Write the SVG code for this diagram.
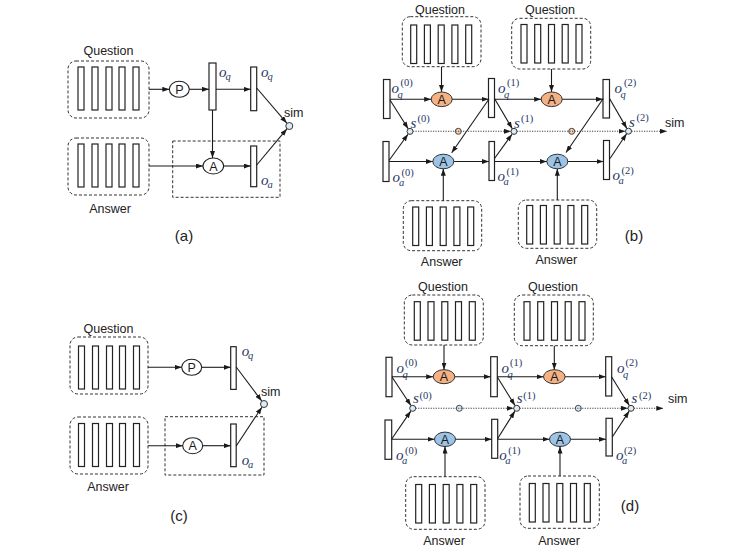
<svg xmlns="http://www.w3.org/2000/svg" width="732" height="556" viewBox="0 0 732 556">
  <defs>
    <marker id="ah" viewBox="0 0 7 5" refX="7" refY="2.5" markerWidth="7" markerHeight="5" markerUnits="userSpaceOnUse" orient="auto">
      <path d="M0,0 L7,2.5 L0,5 z" fill="#1a1a1a"/>
    </marker>
    <!-- five-slot word sequence, tall variant -->
    <g id="seq">
      <rect class="bar" x="0" y="0" width="6" height="43"/>
      <rect class="bar" x="14" y="0" width="6" height="43"/>
      <rect class="bar" x="28" y="0" width="6" height="43"/>
      <rect class="bar" x="41" y="0" width="6" height="43"/>
      <rect class="bar" x="55" y="0" width="6" height="43"/>
    </g>
    <!-- five-slot word sequence, short variant -->
    <g id="seq2">
      <rect class="bar" x="0" y="0" width="6" height="38.5"/>
      <rect class="bar" x="13.7" y="0" width="6" height="38.5"/>
      <rect class="bar" x="27.5" y="0" width="6" height="38.5"/>
      <rect class="bar" x="41.2" y="0" width="6" height="38.5"/>
      <rect class="bar" x="55" y="0" width="6" height="38.5"/>
    </g>
  </defs>
  <style>
    .bar { fill: #fff; stroke: #222; stroke-width: 1.2; }
    .grp { fill: none; stroke: #333; stroke-width: 1; stroke-dasharray: 3 2; }
    .ln { fill: none; stroke: #1a1a1a; stroke-width: 1.1; marker-end: url(#ah); }
    .dota { fill: none; stroke: #444; stroke-width: 1.1; stroke-dasharray: 1.2 1.3; marker-end: url(#ah); }
    .lbl { font-family: "Liberation Sans", Arial, sans-serif; font-size: 12.5px; fill: #222; text-anchor: middle; }
    .sim { font-family: "Liberation Sans", Arial, sans-serif; font-size: 12.5px; fill: #222; }
    .cap { font-family: "Liberation Sans", Arial, sans-serif; font-size: 15px; fill: #222; text-anchor: middle; }
    .op { fill: #fff; stroke: #222; stroke-width: 1.1; }
    .opq { fill: #F4B183; stroke: #333; stroke-width: 1; }
    .opa { fill: #9DC3E6; stroke: #333; stroke-width: 1; }
    .opt { font-family: "Liberation Sans", Arial, sans-serif; font-size: 12.5px; fill: #1a1a1a; text-anchor: middle; }
    .node { fill: #DEEBF7; stroke: #333; stroke-width: 1; }
    .mid { fill: #F8CBAD; stroke: #333; stroke-width: 0.9; }
    .midb { fill: #DEEBF7; stroke: #333; stroke-width: 0.9; }
    .v { font-family: "Liberation Serif", "DejaVu Serif", serif; font-style: italic; fill: #1F3864; font-size: 15px; }
    .sub { font-family: "Liberation Serif", "DejaVu Serif", serif; font-style: italic; fill: #1F3864; font-size: 10.5px; }
    .sup { font-family: "Liberation Serif", "DejaVu Serif", serif; fill: #1F3864; font-size: 10.5px; }
  </style>

  <!-- ===================== (a) ===================== -->
  <g id="panel-a">
    <g id="a-question">
      <text class="lbl" x="108.5" y="55">Question</text>
      <rect class="grp" x="68" y="61" width="81" height="57" rx="8"/>
      <use href="#seq" x="78" y="67"/>
    </g>
    <g id="a-answer">
      <rect class="grp" x="68" y="138" width="81" height="57" rx="8"/>
      <use href="#seq" x="78" y="144"/>
      <text class="lbl" x="110" y="213">Answer</text>
    </g>
    <g id="a-attn-box"><rect class="grp" x="172.7" y="141" width="107.3" height="56.3"/></g>
    <g id="a-p">
      <ellipse class="op" cx="179.3" cy="89.3" rx="10" ry="8"/>
      <text class="opt" x="179.3" y="93.8">P</text>
    </g>
    <g id="a-a">
      <ellipse class="op" cx="213.3" cy="166" rx="10.3" ry="8"/>
      <text class="opt" x="213.3" y="170.5">A</text>
    </g>
    <g id="a-oq1">
      <rect class="bar" x="209" y="63" width="7" height="47"/>
      <text class="v" x="219" y="77" font-size="14">o</text><text class="sub" x="225.5" y="80">q</text>
    </g>
    <g id="a-oq2">
      <rect class="bar" x="250.7" y="67" width="6" height="43.7"/>
      <text class="v" x="261" y="77" font-size="14">o</text><text class="sub" x="267.5" y="80">q</text>
    </g>
    <g id="a-oa">
      <rect class="bar" x="250.7" y="146" width="6" height="40.7"/>
      <text class="v" x="261" y="185" font-size="14">o</text><text class="sub" x="267.5" y="188">a</text>
    </g>
    <g id="a-sim">
      <circle class="node" cx="289.3" cy="126" r="3.5"/>
      <text class="sim" x="284" y="117">sim</text>
    </g>
    <g id="a-edges">
      <line class="ln" x1="149" y1="89.3" x2="169.3" y2="89.3"/>
      <line class="ln" x1="189.3" y1="89.3" x2="209" y2="89.3"/>
      <line class="ln" x1="216" y1="89.3" x2="250.7" y2="89.3"/>
      <line class="ln" x1="212.5" y1="110" x2="212.5" y2="158"/>
      <line class="ln" x1="149" y1="166" x2="203" y2="166"/>
      <line class="ln" x1="223.6" y1="166" x2="250.7" y2="166"/>
      <line class="ln" x1="256.7" y1="88" x2="286.8" y2="123.1"/>
      <line class="ln" x1="256.7" y1="165" x2="286.9" y2="128.9"/>
    </g>
    <text class="cap" x="184" y="241">(a)</text>
  </g>

  <!-- ===================== (c) ===================== -->
  <g id="panel-c">
    <g id="c-question">
      <text class="lbl" x="108.5" y="333">Question</text>
      <rect class="grp" x="70" y="337" width="78" height="57" rx="8"/>
      <use href="#seq" x="78.5" y="346"/>
    </g>
    <g id="c-answer">
      <rect class="grp" x="70" y="417" width="78" height="57" rx="8"/>
      <use href="#seq" x="78.5" y="423.5"/>
      <text class="lbl" x="108" y="491">Answer</text>
    </g>
    <g id="c-attn-box"><rect class="grp" x="165" y="416.7" width="99" height="58.3"/></g>
    <g id="c-p">
      <ellipse class="op" cx="191.7" cy="367.3" rx="10" ry="8"/>
      <text class="opt" x="191.7" y="371.8">P</text>
    </g>
    <g id="c-a">
      <ellipse class="op" cx="192.7" cy="445.7" rx="10" ry="8"/>
      <text class="opt" x="192.7" y="450.2">A</text>
    </g>
    <g id="c-oq">
      <rect class="bar" x="230.7" y="346.7" width="5.5" height="42.7"/>
      <text class="v" x="241.7" y="355.5" font-size="14">o</text><text class="sub" x="248" y="358.5">q</text>
    </g>
    <g id="c-oa">
      <rect class="bar" x="230.7" y="424" width="5.5" height="42.7"/>
      <text class="v" x="241.7" y="465" font-size="14">o</text><text class="sub" x="248" y="468">a</text>
    </g>
    <g id="c-sim">
      <circle class="node" cx="264" cy="404" r="3.5"/>
      <text class="sim" x="261" y="396">sim</text>
    </g>
    <g id="c-edges">
      <line class="ln" x1="148" y1="367.3" x2="181.7" y2="367.3"/>
      <line class="ln" x1="201.7" y1="367.3" x2="230.7" y2="367.3"/>
      <line class="ln" x1="148" y1="445.7" x2="182.7" y2="445.7"/>
      <line class="ln" x1="202.7" y1="445.7" x2="230.7" y2="445.7"/>
      <line class="ln" x1="236.2" y1="367" x2="261.7" y2="401"/>
      <line class="ln" x1="236.2" y1="446" x2="261.9" y2="407.2"/>
    </g>
    <text class="cap" x="179" y="521">(c)</text>
  </g>

  <!-- ===================== (b) ===================== -->
  <g id="panel-b">
    <g id="b-question-1">
      <text class="lbl" x="440" y="14">Question</text>
      <rect class="grp" x="402.3" y="16.7" width="78.7" height="50" rx="8"/>
      <use href="#seq2" x="410.7" y="25"/>
    </g>
    <g id="b-question-2">
      <text class="lbl" x="550" y="14">Question</text>
      <rect class="grp" x="511.7" y="18.3" width="79" height="50.7" rx="8"/>
      <use href="#seq2" x="521" y="24.5"/>
    </g>
    <g id="b-answer-1">
      <rect class="grp" x="403.3" y="200.7" width="78.4" height="50" rx="8"/>
      <use href="#seq2" x="412.7" y="207"/>
      <text class="lbl" x="441.7" y="266">Answer</text>
    </g>
    <g id="b-answer-2">
      <rect class="grp" x="518.3" y="200" width="78.4" height="48.3" rx="8"/>
      <use href="#seq2" x="526.7" y="205.5"/>
      <text class="lbl" x="556.3" y="264">Answer</text>
    </g>

    <g id="b-oq0">
      <rect class="bar" x="383.5" y="79.5" width="6.5" height="39"/>
      <text class="v" x="391.5" y="93">o</text><text class="sub" x="397.5" y="98">q</text><text class="sup" x="400.5" y="85.5">(0)</text>
    </g>
    <g id="b-oq1">
      <rect class="bar" x="488.5" y="78.5" width="6" height="39"/>
      <text class="v" x="498" y="93">o</text><text class="sub" x="504" y="98">q</text><text class="sup" x="507" y="85.5">(1)</text>
    </g>
    <g id="b-oq2">
      <rect class="bar" x="603" y="79.5" width="6.5" height="38.5"/>
      <text class="v" x="614.5" y="93">o</text><text class="sub" x="620.5" y="98">q</text><text class="sup" x="624" y="85.5">(2)</text>
    </g>
    <g id="b-oa0">
      <rect class="bar" x="383" y="141.5" width="6" height="40"/>
      <text class="v" x="392.5" y="182">o</text><text class="sub" x="399" y="186">a</text><text class="sup" x="401.5" y="175.5">(0)</text>
    </g>
    <g id="b-oa1">
      <rect class="bar" x="489" y="141.5" width="5.5" height="39"/>
      <text class="v" x="497.5" y="181">o</text><text class="sub" x="503.5" y="185">a</text><text class="sup" x="506.5" y="174.5">(1)</text>
    </g>
    <g id="b-oa2">
      <rect class="bar" x="603.5" y="140.5" width="6" height="39"/>
      <text class="v" x="612.5" y="180">o</text><text class="sub" x="618.5" y="184">a</text><text class="sup" x="621.5" y="173.5">(2)</text>
    </g>

    <g id="b-aq1"><ellipse class="opq" cx="441.7" cy="99.3" rx="10.5" ry="7.3"/><text class="opt" x="441.7" y="103.8">A</text></g>
    <g id="b-aq2"><ellipse class="opq" cx="551.7" cy="99.3" rx="10.5" ry="7.3"/><text class="opt" x="551.7" y="103.8">A</text></g>
    <g id="b-aa1"><ellipse class="opa" cx="443.3" cy="161.5" rx="10.5" ry="7.3"/><text class="opt" x="443.3" y="166">A</text></g>
    <g id="b-aa2"><ellipse class="opa" cx="557.3" cy="161.5" rx="10.5" ry="7.3"/><text class="opt" x="557.3" y="166">A</text></g>

    <g id="b-s0"><circle class="node" cx="410" cy="131.4" r="3"/><text class="v" x="410.5" y="128" font-size="14">s</text><text class="sup" x="417.5" y="122">(0)</text></g>
    <g id="b-s1"><circle class="node" cx="514" cy="131.4" r="3"/><text class="v" x="514" y="128" font-size="14">s</text><text class="sup" x="521" y="122">(1)</text></g>
    <g id="b-s2"><circle class="node" cx="628.5" cy="131.2" r="3"/><text class="v" x="629" y="127" font-size="14">s</text><text class="sup" x="636.5" y="121">(2)</text></g>
    <g id="b-m1"><circle class="mid" cx="458.3" cy="131.3" r="3"/></g>
    <g id="b-m2"><circle class="mid" cx="571.7" cy="131.3" r="3"/></g>
    <text class="sim" x="665" y="127">sim</text>

    <g id="b-edges">
      <line class="ln" x1="441.5" y1="66.7" x2="441.5" y2="92"/>
      <line class="ln" x1="551.5" y1="69" x2="551.5" y2="92"/>
      <line class="ln" x1="443.3" y1="200.7" x2="443.3" y2="168.8"/>
      <line class="ln" x1="557.3" y1="200" x2="557.3" y2="168.8"/>
      <line class="ln" x1="390" y1="99.3" x2="431.2" y2="99.3"/>
      <line class="ln" x1="452.2" y1="99.3" x2="488.5" y2="99.3"/>
      <line class="ln" x1="494.5" y1="99.3" x2="541.2" y2="99.3"/>
      <line class="ln" x1="562.2" y1="99.3" x2="603" y2="99.3"/>
      <line class="ln" x1="389" y1="161.5" x2="432.8" y2="161.5"/>
      <line class="ln" x1="453.8" y1="161.5" x2="489" y2="161.5"/>
      <line class="ln" x1="494.5" y1="161.5" x2="546.8" y2="161.5"/>
      <line class="ln" x1="567.8" y1="161.5" x2="603.5" y2="161.5"/>
      <line class="ln" x1="390" y1="100" x2="408.2" y2="128.7"/>
      <line class="ln" x1="389" y1="160.5" x2="408" y2="134.2"/>
      <line class="ln" x1="494.5" y1="98.5" x2="512.3" y2="128.7"/>
      <line class="ln" x1="494.5" y1="158.5" x2="512" y2="134.2"/>
      <line class="ln" x1="609.5" y1="98.5" x2="626.8" y2="128.4"/>
      <line class="ln" x1="610" y1="158.5" x2="626.6" y2="133.8"/>
      <line class="ln" x1="489" y1="99" x2="451.7" y2="152.7"/>
      <line class="ln" x1="603.3" y1="98.5" x2="566" y2="152.5"/>
      <line class="dota" x1="413" y1="131.3" x2="511" y2="131.3"/>
      <line class="dota" x1="517" y1="131.3" x2="625.5" y2="131.3"/>
      <line class="dota" x1="631.5" y1="131.3" x2="667" y2="131.3"/>
    </g>
    <text class="cap" x="634" y="241">(b)</text>
  </g>

  <!-- ===================== (d) ===================== -->
  <g id="panel-d">
    <g id="d-question-1">
      <text class="lbl" x="443" y="291">Question</text>
      <rect class="grp" x="404.3" y="295" width="79" height="50" rx="8"/>
      <use href="#seq2" x="414.3" y="301.7"/>
    </g>
    <g id="d-question-2">
      <text class="lbl" x="553" y="291">Question</text>
      <rect class="grp" x="514.3" y="295" width="79" height="50.7" rx="8"/>
      <use href="#seq2" x="524" y="301.7"/>
    </g>
    <g id="d-answer-1">
      <rect class="grp" x="405.7" y="476.7" width="79.3" height="52.6" rx="8"/>
      <use href="#seq2" x="415.7" y="484.5"/>
      <text class="lbl" x="444" y="545">Answer</text>
    </g>
    <g id="d-answer-2">
      <rect class="grp" x="520" y="476" width="79.3" height="52.3" rx="8"/>
      <use href="#seq2" x="529.3" y="483.5"/>
      <text class="lbl" x="559" y="545">Answer</text>
    </g>

    <g id="d-oq0">
      <rect class="bar" x="386" y="357.3" width="6" height="39.4"/>
      <text class="v" x="396.5" y="373">o</text><text class="sub" x="402.5" y="377.5">q</text><text class="sup" x="405" y="365.5">(0)</text>
    </g>
    <g id="d-oq1">
      <rect class="bar" x="490.7" y="356.7" width="6.6" height="40"/>
      <text class="v" x="501.5" y="373">o</text><text class="sub" x="507.5" y="377.5">q</text><text class="sup" x="510" y="365.5">(1)</text>
    </g>
    <g id="d-oq2">
      <rect class="bar" x="605.7" y="356.7" width="6" height="39.3"/>
      <text class="v" x="617" y="373">o</text><text class="sub" x="623" y="377.5">q</text><text class="sup" x="625.5" y="365.5">(2)</text>
    </g>
    <g id="d-oa0">
      <rect class="bar" x="385" y="420" width="6.7" height="39.3"/>
      <text class="v" x="396" y="460">o</text><text class="sub" x="402" y="464">a</text><text class="sup" x="405" y="454">(0)</text>
    </g>
    <g id="d-oa1">
      <rect class="bar" x="491.7" y="419.3" width="6" height="39"/>
      <text class="v" x="499.3" y="460">o</text><text class="sub" x="505.3" y="464">a</text><text class="sup" x="508.3" y="454">(1)</text>
    </g>
    <g id="d-oa2">
      <rect class="bar" x="606" y="418.3" width="6.3" height="37.7"/>
      <text class="v" x="616" y="460">o</text><text class="sub" x="622" y="464">a</text><text class="sup" x="624" y="454">(2)</text>
    </g>

    <g id="d-aq1"><ellipse class="opq" cx="444" cy="376.7" rx="10.8" ry="7"/><text class="opt" x="444" y="381.2">A</text></g>
    <g id="d-aq2"><ellipse class="opq" cx="554.3" cy="376.7" rx="10.8" ry="7"/><text class="opt" x="554.3" y="381.2">A</text></g>
    <g id="d-aa1"><ellipse class="opa" cx="445" cy="439.3" rx="10.5" ry="7.2"/><text class="opt" x="445" y="443.8">A</text></g>
    <g id="d-aa2"><ellipse class="opa" cx="560" cy="439.3" rx="10.5" ry="7.2"/><text class="opt" x="560" y="443.8">A</text></g>

    <g id="d-s0"><circle class="node" cx="412.7" cy="408.3" r="3"/><text class="v" x="413" y="402.5" font-size="14">s</text><text class="sup" x="419.5" y="399">(0)</text></g>
    <g id="d-s1"><circle class="node" cx="516.7" cy="408.3" r="3"/><text class="v" x="516.7" y="402.5" font-size="14">s</text><text class="sup" x="523.3" y="399">(1)</text></g>
    <g id="d-s2"><circle class="node" cx="631" cy="408.3" r="3"/><text class="v" x="631.5" y="402.5" font-size="14">s</text><text class="sup" x="639" y="399">(2)</text></g>
    <g id="d-m1"><circle class="midb" cx="459.3" cy="408.3" r="3"/></g>
    <g id="d-m2"><circle class="midb" cx="578.3" cy="408.3" r="3"/></g>
    <text class="sim" x="668" y="403">sim</text>

    <g id="d-edges">
      <line class="ln" x1="444" y1="345" x2="444" y2="369.7"/>
      <line class="ln" x1="554.3" y1="345.7" x2="554.3" y2="369.7"/>
      <line class="ln" x1="445" y1="476.7" x2="445" y2="446.5"/>
      <line class="ln" x1="560" y1="476" x2="560" y2="446.5"/>
      <line class="ln" x1="392" y1="376.7" x2="433.2" y2="376.7"/>
      <line class="ln" x1="454.8" y1="376.7" x2="490.7" y2="376.7"/>
      <line class="ln" x1="497.3" y1="376.7" x2="543.5" y2="376.7"/>
      <line class="ln" x1="565.1" y1="376.7" x2="605.7" y2="376.7"/>
      <line class="ln" x1="391.7" y1="439.3" x2="434.5" y2="439.3"/>
      <line class="ln" x1="455.5" y1="439.3" x2="491.7" y2="439.3"/>
      <line class="ln" x1="497.7" y1="439.3" x2="549.5" y2="439.3"/>
      <line class="ln" x1="570.5" y1="439.3" x2="606" y2="439.3"/>
      <line class="ln" x1="392" y1="377" x2="410.9" y2="405.5"/>
      <line class="ln" x1="391.7" y1="439" x2="410.8" y2="411.1"/>
      <line class="ln" x1="497.3" y1="377" x2="515" y2="405.5"/>
      <line class="ln" x1="497.7" y1="438.5" x2="514.9" y2="411.1"/>
      <line class="ln" x1="611.7" y1="377" x2="629.3" y2="405.5"/>
      <line class="ln" x1="612.3" y1="437" x2="629.2" y2="411.1"/>
      <line class="dota" x1="415.7" y1="408.3" x2="513.7" y2="408.3"/>
      <line class="dota" x1="519.7" y1="408.3" x2="628" y2="408.3"/>
      <line class="dota" x1="634" y1="408.3" x2="663.3" y2="408.3"/>
    </g>
    <text class="cap" x="630" y="511">(d)</text>
  </g>
</svg>
